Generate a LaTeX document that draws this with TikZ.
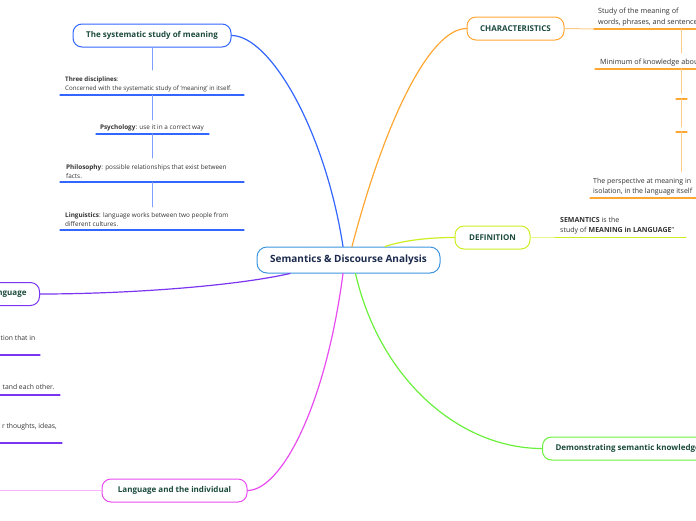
\documentclass[tikz,border=0pt]{standalone}
\usepackage{fontspec}
\setmainfont{Open Sans}

\definecolor{rootblue}{HTML}{3D96DD}
\definecolor{roottext}{HTML}{1C2A4D}
\definecolor{topictext}{HTML}{1B4A3C}
\definecolor{leafgrey}{HTML}{333333}
\definecolor{sysblue}{HTML}{3366FF}
\definecolor{systhin}{HTML}{7D9DFF}
\definecolor{charorange}{HTML}{FFA733}
\definecolor{charthin}{HTML}{FFCC88}
\definecolor{defyellow}{HTML}{CCEE22}
\definecolor{defthin}{HTML}{E4F88C}
\definecolor{langpurple}{HTML}{7A35F0}
\definecolor{indmagenta}{HTML}{E84CF0}
\definecolor{indthin}{HTML}{F7B4F8}
\definecolor{demgreen}{HTML}{6AF03C}

\begin{document}
\begin{tikzpicture}[x=1pt, y=-1pt, line cap=round, line join=round,
  topic/.style={draw, fill=white, rounded corners=9pt, line width=1pt,
    minimum height=23pt, inner xsep=8pt, text=topictext,
    font=\fontsize{8}{9}\selectfont\bfseries},
  leaf/.style={inner sep=0pt, align=left, text=leafgrey,
    font=\fontsize{6.4}{9}\selectfont},
  bigleaf/.style={leaf, font=\fontsize{7.2}{11}\selectfont},
  branch/.style={line width=1.2pt},
  uline/.style={line width=1.3pt},
  stem/.style={line width=0.6pt}]

  %% ════ 中心节点 ════
  \node[draw=rootblue, fill=white, rounded corners=10pt, line width=1pt,
    minimum width=183pt, minimum height=26pt, text=roottext,
    font=\fontsize{10}{12}\selectfont\bfseries] (root) at (348.5,260) {Semantics \& Discourse Analysis};

  %% ════ 主题节点 ════
  \node[topic, draw=sysblue, minimum width=158pt] (sys) at (152,35.5) {The systematic study of meaning};
  \node[topic, draw=charorange, minimum width=97pt] (char) at (515.5,28.5) {CHARACTERISTICS};
  \node[topic, draw=defyellow, minimum width=75pt] (def) at (492.5,237.5) {DEFINITION};
  \node[topic, draw=langpurple, anchor=east, inner xsep=13pt] (lang) at (40,294) {nguage};
  \node[topic, draw=indmagenta, minimum width=145pt] (ind) at (174.5,490.5) {Language and the individual};
  \node[topic, draw=demgreen, anchor=west, inner xsep=13pt] (dem) at (542,448.5) {Demonstrating semantic knowledge};

  %% ════ 中心到主题的曲线 ════
  \draw[branch, sysblue] ([xshift=-5.5pt]root.north) .. controls (325,130) and (270,35.5) .. (sys.east);
  \draw[branch, charorange] ([xshift=3.5pt]root.north) .. controls (385,120) and (430,28.5) .. (char.west);
  \draw[branch, defyellow] ([xshift=36.5pt]root.north) .. controls (405,240) and (430,237.5) .. (def.west);
  \draw[branch, langpurple] ([xshift=-58.5pt]root.south) .. controls (230,287) and (120,294) .. (lang.east);
  \draw[branch, indmagenta] ([xshift=-5.5pt]root.south) .. controls (325,410) and (280,490.5) .. (ind.east);
  \draw[branch, demgreen] ([xshift=7pt]root.south) .. controls (380,380) and (460,448.5) .. (dem.west);

  %% ════ The systematic study of meaning ════
  \node[leaf, anchor=south west, font=\fontsize{6.2}{9}\selectfont] (three) at (65,92) {\textbf{Three disciplines}:\\Concerned with the systematic study of `meaning' in itself.};
  \node[leaf, anchor=south] (psy) at (152,131) {\textbf{Psychology}: use it in a correct way};
  \node[leaf, anchor=south west] (phil) at (66,179) {\textbf{Philosophy}: possible relationships that exist between\\facts.};
  \node[leaf, anchor=south west] (ling) at (65,227) {\textbf{Linguistics}: language works between two people from\\different cultures.};
  \foreach \y/\a/\b in {95/60/244, 134/96/209, 182/60/244, 230/60/244}
    \draw[uline, sysblue] (\a,\y) -- (\b,\y);
  \draw[stem, systhin] (sys.south) -- (152,70);
  \foreach \a/\b in {95/120, 134/158, 182/207}
    \draw[stem, systhin] (152,\a) -- (152,\b);

  %% ════ CHARACTERISTICS ════
  \coordinate (c1) at (594,29);
  \draw[stem, charthin, line width=1pt] (char.east) -- (c1);
  \node[bigleaf, anchor=south west] (study) at (598,26) {Study of the meaning of\\words, phrases, and sentences};
  \node[bigleaf, anchor=south west] (mini) at (600,66) {Minimum of knowledge about};
  \node[bigleaf, anchor=south west, font=\fontsize{7}{9.5}\selectfont] (persp) at (593,195) {The perspective at meaning in\\isolation, in the language itself};
  \foreach \y/\a in {29/594, 69/595, 198/590}
    \draw[uline, charorange] (\a,\y) -- (700,\y);
  \foreach \y in {99, 132}
    \draw[uline, charorange] (676,\y) -- (687,\y);
  \foreach \a/\b in {29/53, 69/94, 99/127, 132/172}
    \draw[stem, charthin] (681,\a) -- (681,\b);

  %% ════ DEFINITION ════
  \coordinate (d1) at (555,237.5);
  \draw[stem, defthin, line width=1pt] (def.east) -- (d1);
  \draw[uline, defyellow] (d1) -- (686,237.5);
  \node[leaf, anchor=south west, font=\fontsize{7}{10}\selectfont] (sem) at (560,234) {\textbf{SEMANTICS} is the\\study of \textbf{MEANING in LANGUAGE}''};

  %% ════ 左侧被裁掉的分支 ════
  \node[leaf, anchor=south east, font=\fontsize{6.8}{9}\selectfont] (lf1) at (35.5,341) {tion that in};
  \node[leaf, anchor=south east, font=\fontsize{6.8}{9}\selectfont] (lf2) at (55,390) {tand each other.};
  \node[leaf, anchor=south east, font=\fontsize{6.8}{9}\selectfont] (lf3) at (57,430) {r thoughts, ideas,};
  \foreach \y/\b in {355/40, 395/60, 443/62}
    \draw[uline, langpurple] (-5,\y) -- (\b,\y);
  \draw[stem, indthin, line width=1pt] (ind.west) -- (-5,490.5);

  % 钉死画布
  \pgfresetboundingbox
  \path[use as bounding box] (0,0) rectangle (696,520);
\end{tikzpicture}
\end{document}
